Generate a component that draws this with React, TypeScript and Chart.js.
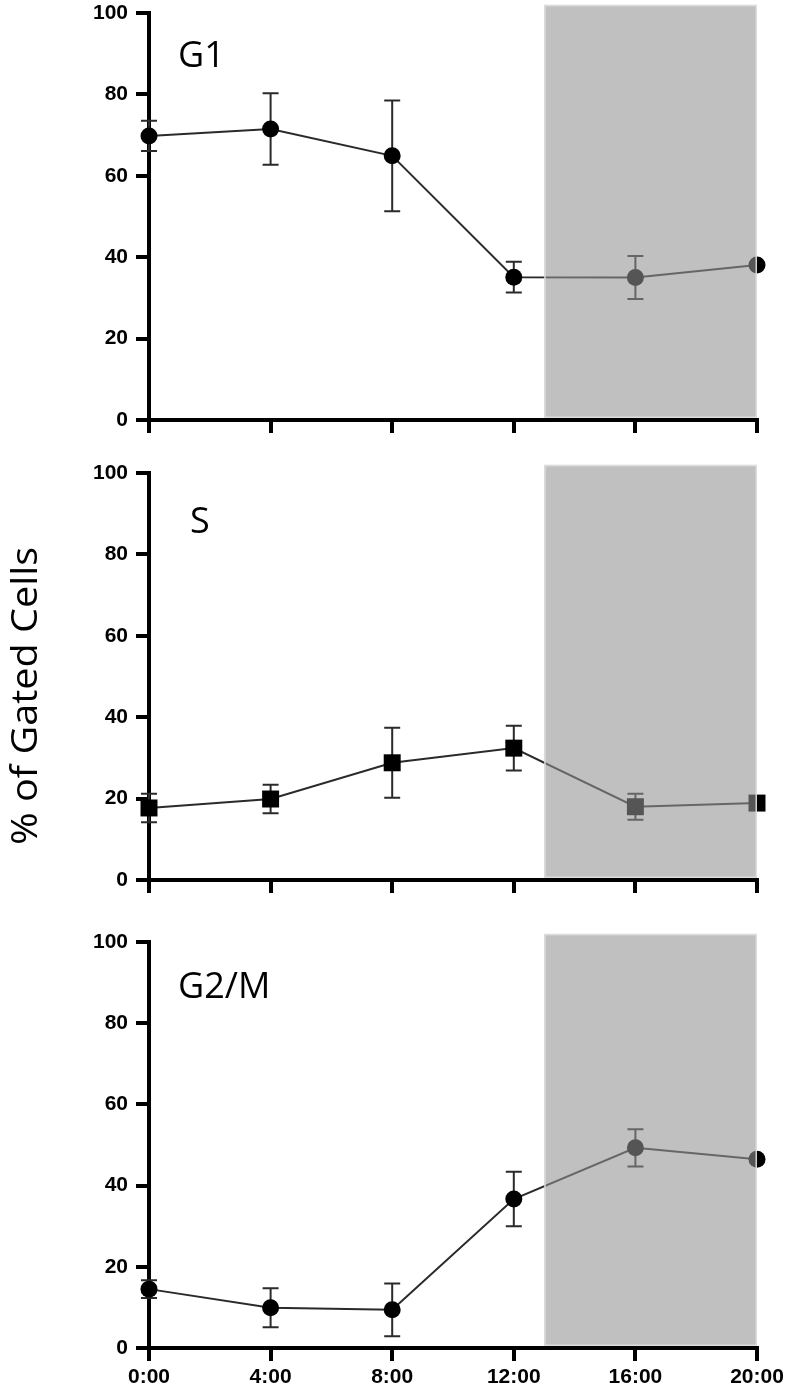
import React, { useEffect, useRef } from "react";
import { Chart, registerables } from "chart.js";

Chart.register(...registerables);

// ---- data ----
const hours = [0, 4, 8, 12, 16, 20];
const timeLabels = ["0:00", "4:00", "8:00", "12:00", "16:00", "20:00"];
const yTicks = [0, 20, 40, 60, 80, 100];

const g1Mean = [69.8, 71.5, 64.9, 35.1, 35.0, 38.1];
const g1Err = [3.7, 8.8, 13.6, 3.8, 5.3, 0];

const sMean = [17.7, 19.9, 28.8, 32.4, 18.0, 18.9];
const sErr = [3.5, 3.5, 8.6, 5.5, 3.2, 0];

const g2mMean = [14.5, 9.9, 9.4, 36.7, 49.3, 46.5];
const g2mErr = [2.2, 4.8, 6.5, 6.7, 4.6, 0];

const shadeStart = 13;
const shadeEnd = 20;
const shadeTopValue = 102;

const panelNames = ["G1", "S", "G2/M"];
const yTitle = "% of Gated Cells";

// ---- layout / style per panel ----
const panels = [
  { name: panelNames[0], mean: g1Mean, err: g1Err, style: "circle", radius: 8.5, top: 0, height: 440, plotTop: 13, axisH: 20, labels: false, lx: 29, ly: 54 },
  { name: panelNames[1], mean: sMean, err: sErr, style: "rect", radius: 12, top: 440, height: 460, plotTop: 33, axisH: 20, labels: false, lx: 41, ly: 60 },
  { name: panelNames[2], mean: g2mMean, err: g2mErr, style: "circle", radius: 8.5, top: 900, height: 491, plotTop: 42, axisH: 43, labels: true, lx: 29, ly: 56 },
];

const tickFont = { family: "'Liberation Sans', Arial, sans-serif", size: 21, weight: "bold" as const };
const xTickFont = { family: "'Liberation Sans', Arial, sans-serif", size: 21, weight: "bold" as const };

function Panel({ cfg }: { cfg: (typeof panels)[number] }) {
  const ref = useRef<HTMLCanvasElement | null>(null);
  useEffect(() => {
    if (!ref.current) return;
    const errPlugin = {
      id: "errBars",
      beforeDatasetsDraw(chart: any) {
        const { ctx, scales } = chart;
        ctx.save();
        ctx.strokeStyle = "#2a2a2a";
        ctx.lineWidth = 2;
        hours.forEach((h, i) => {
          const e = cfg.err[i];
          if (!e) return;
          const x = scales.x.getPixelForValue(h);
          const y1 = scales.y.getPixelForValue(cfg.mean[i] + e);
          const y2 = scales.y.getPixelForValue(cfg.mean[i] - e);
          ctx.beginPath();
          ctx.moveTo(x, y1);
          ctx.lineTo(x, y2);
          ctx.moveTo(x - 8, y1);
          ctx.lineTo(x + 8, y1);
          ctx.moveTo(x - 8, y2);
          ctx.lineTo(x + 8, y2);
          ctx.stroke();
        });
        ctx.restore();
      },
    };
    const shadePlugin = {
      id: "shade",
      afterDatasetsDraw(chart: any) {
        const { ctx, scales, chartArea } = chart;
        const x1 = scales.x.getPixelForValue(shadeStart);
        const x2 = scales.x.getPixelForValue(shadeEnd);
        const y1 = scales.y.getPixelForValue(shadeTopValue);
        const y2 = chartArea.bottom - 2;
        ctx.save();
        ctx.fillStyle = "rgba(146,146,146,0.58)";
        ctx.fillRect(x1, y1, x2 - x1, y2 - y1);
        ctx.strokeStyle = "rgba(225,225,225,0.9)";
        ctx.lineWidth = 1.5;
        ctx.strokeRect(x1 + 0.75, y1 + 0.75, x2 - x1 - 1.5, y2 - y1 - 1.5);
        ctx.restore();
      },
    };
    const labelPlugin = {
      id: "panelLabel",
      afterDraw(chart: any) {
        const { ctx, chartArea } = chart;
        ctx.save();
        ctx.fillStyle = "#000";
        ctx.font = "36px 'Open Sans', sans-serif";
        ctx.textAlign = "left";
        ctx.textBaseline = "alphabetic";
        ctx.fillText(cfg.name, chartArea.left + cfg.lx, chartArea.top + cfg.ly);
        ctx.restore();
      },
    };
    const chart = new Chart(ref.current, {
      type: "line",
      data: {
        datasets: [
          {
            data: hours.map((h, i) => ({ x: h, y: cfg.mean[i] })),
            borderColor: "#2a2a2a",
            borderWidth: 2,
            pointStyle: cfg.style as any,
            pointRadius: cfg.radius,
            pointBackgroundColor: "#000",
            pointBorderColor: "#000",
            pointBorderWidth: 0,
            clip: false as any,
            tension: 0,
          },
        ],
      },
      options: {
        responsive: false,
        animation: false,
        devicePixelRatio: 1,
        events: [],
        layout: { padding: { left: 0, right: 32, top: cfg.plotTop, bottom: 0 } },
        plugins: { legend: { display: false }, tooltip: { enabled: false } },
        scales: {
          x: {
            type: "linear",
            min: 0,
            max: 20,
            afterBuildTicks: (s: any) => {
              s.ticks = hours.map((v) => ({ value: v }));
            },
            afterFit: (s: any) => {
              s.height = cfg.axisH;
              s.paddingLeft = 0;
              s.paddingRight = 0;
            },
            ticks: {
              display: cfg.labels,
              autoSkip: false,
              maxRotation: 0,
              padding: 4,
              color: "#000",
              font: xTickFont,
              callback: (v: any) => timeLabels[hours.indexOf(Number(v))],
            },
            grid: {
              display: true,
              drawOnChartArea: false,
              drawTicks: true,
              tickLength: 13,
              tickWidth: 4,
              tickColor: "#000",
              lineWidth: 4,
              color: "#000",
            },
            border: { display: true, color: "#000", width: 4 },
          },
          y: {
            min: 0,
            max: 100,
            afterBuildTicks: (s: any) => {
              s.ticks = yTicks.map((v) => ({ value: v }));
            },
            afterFit: (s: any) => {
              s.width = 149;
              s.paddingTop = 0;
              s.paddingBottom = 0;
            },
            ticks: { padding: 8, color: "#000", font: tickFont },
            grid: {
              display: true,
              drawOnChartArea: false,
              drawTicks: true,
              tickLength: 13,
              tickWidth: 4,
              tickColor: "#000",
              lineWidth: 4,
              color: "#000",
            },
            border: { display: true, color: "#000", width: 4 },
          },
        },
      } as any,
      plugins: [errPlugin, shadePlugin, labelPlugin],
    });
    return () => chart.destroy();
  }, [cfg]);
  return (
    <canvas
      ref={ref}
      width={789}
      height={cfg.height}
      style={{ position: "absolute", left: 0, top: cfg.top, width: 789, height: cfg.height, display: "block" }}
    />
  );
}

export default function App() {
  return (
    <div style={{ position: "absolute", left: 0, top: 0, width: 789, height: 1391, background: "#fff", overflow: "hidden" }}>
      {panels.map((p) => (
        <Panel key={p.name} cfg={p} />
      ))}
      <svg width={60} height={1391} style={{ position: "absolute", left: 0, top: 0 }}>
        <text
          transform="translate(37,696) rotate(-90)"
          textAnchor="middle"
          textLength={298}
          lengthAdjust="spacingAndGlyphs"
          fontFamily="'Open Sans', sans-serif"
          fontSize={36}
          fill="#000"
        >
          {yTitle}
        </text>
      </svg>
    </div>
  );
}
